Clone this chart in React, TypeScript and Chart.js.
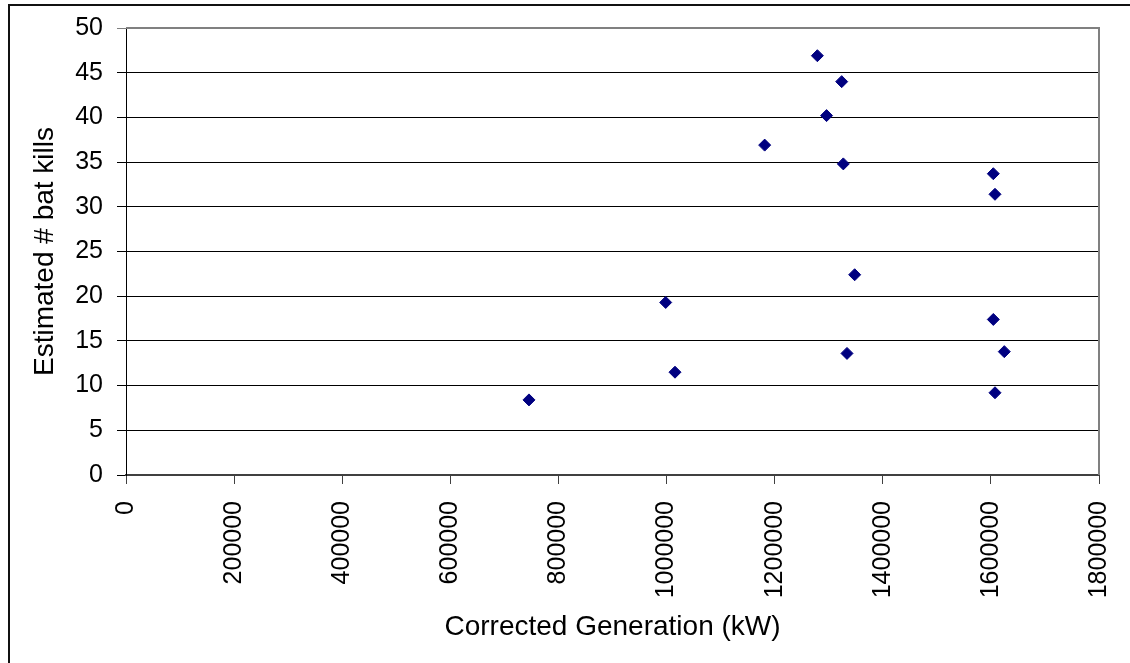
import React, { useEffect, useRef } from "react";
import { Chart, registerables } from "chart.js";

Chart.register(...registerables);

// Corrected Generation (kW)
const generation: number[] = [
  1279000, 1324000, 1296000, 1181500, 1327000,
  1604500, 1607600, 1348000, 998400, 1604500,
  1333800, 1624800, 1015600, 1607600, 745500,
];
// Estimated # bat kills
const batKills: number[] = [
  46.9, 44.0, 40.2, 36.9, 34.8,
  33.7, 31.4, 22.4, 19.3, 17.4,
  13.6, 13.8, 11.5, 9.2, 8.4,
];

const xTicks: number[] = [0, 200000, 400000, 600000, 800000, 1000000, 1200000, 1400000, 1600000, 1800000];
const yTicks: number[] = [0, 5, 10, 15, 20, 25, 30, 35, 40, 45, 50];

const xTitle = "Corrected Generation (kW)";
const yTitle = "Estimated # bat kills";

const FONT = "'Liberation Sans', Arial, sans-serif";

export default function App() {
  const canvasRef = useRef<HTMLCanvasElement | null>(null);

  useEffect(() => {
    const canvas = canvasRef.current;
    if (!canvas) return;

    const frame = {
      id: "plotFrame",
      afterDraw(chart: any) {
        const { ctx, chartArea } = chart;
        ctx.save();
        ctx.strokeStyle = "#808080";
        ctx.lineWidth = 2;
        ctx.beginPath();
        ctx.moveTo(chartArea.left, chartArea.top);
        ctx.lineTo(chartArea.right, chartArea.top);
        ctx.lineTo(chartArea.right, chartArea.bottom);
        ctx.stroke();
        ctx.restore();
      },
    };

    const chart = new Chart(canvas, {
      type: "scatter",
      data: {
        datasets: [
          {
            label: "bat kills",
            data: generation.map((g, i) => ({ x: g, y: batKills[i] })),
            pointStyle: "rectRot",
            radius: 6,
            hoverRadius: 6,
            backgroundColor: "#000080",
            borderColor: "#000080",
            borderWidth: 1,
          },
        ],
      },
      options: {
        animation: false,
        responsive: false,
        devicePixelRatio: 1,
        layout: { padding: { left: 0, top: 28, right: 31, bottom: 0 } },
        plugins: {
          legend: { display: false },
          tooltip: { enabled: false },
        },
        scales: {
          x: {
            type: "linear",
            min: xTicks[0],
            max: xTicks[xTicks.length - 1],
            afterBuildTicks: (scale: any) => {
              scale.ticks = xTicks.map((v) => ({ value: v }));
            },
            afterFit: (scale: any) => {
              scale.height = 188;
              scale.paddingLeft = 0;
              scale.paddingRight = 0;
            },
            ticks: {
              autoSkip: false,
              minRotation: 90,
              maxRotation: 90,
              padding: 17,
              color: "#000",
              font: { family: FONT, size: 25 },
              callback: (v: any) => String(v),
            },
            grid: {
              drawOnChartArea: false,
              drawTicks: true,
              tickLength: 9,
              color: "#404040",
              lineWidth: 1,
            },
            border: { display: true, color: "#404040", width: 2 },
            title: {
              display: true,
              text: xTitle,
              color: "#000",
              font: { family: FONT, size: 28 },
              padding: { top: 0, bottom: 19 },
            },
          },
          y: {
            type: "linear",
            min: yTicks[0],
            max: yTicks[yTicks.length - 1],
            afterBuildTicks: (scale: any) => {
              scale.ticks = yTicks.map((v) => ({ value: v }));
            },
            afterFit: (scale: any) => {
              scale.width = 126;
              scale.paddingTop = 0;
              scale.paddingBottom = 0;
            },
            ticks: {
              padding: 14,
              color: "#000",
              font: { family: FONT, size: 25 },
              callback: (v: any) => String(v),
            },
            grid: {
              drawOnChartArea: true,
              drawTicks: true,
              tickLength: 9,
              color: (c: any) => (c.tick && c.tick.value === 50 ? "#808080" : "#000"),
              lineWidth: 1,
            },
            border: { display: true, color: "#000", width: 1 },
            title: {
              display: true,
              text: yTitle,
              color: "#000",
              font: { family: FONT, size: 28 },
              padding: { top: 28, bottom: 0 },
            },
          },
        },
      },
      plugins: [frame],
    });

    return () => chart.destroy();
  }, []);

  return (
    <>
      <canvas
        ref={canvasRef}
        width={1130}
        height={663}
        style={{ position: "absolute", left: 0, top: 0, width: 1130, height: 663 }}
      />
      <div
        style={{
          position: "absolute",
          left: 8,
          top: 4,
          width: 1120,
          height: 657,
          borderLeft: "2px solid #111",
          borderTop: "2px solid #111",
          pointerEvents: "none",
        }}
      />
    </>
  );
}
